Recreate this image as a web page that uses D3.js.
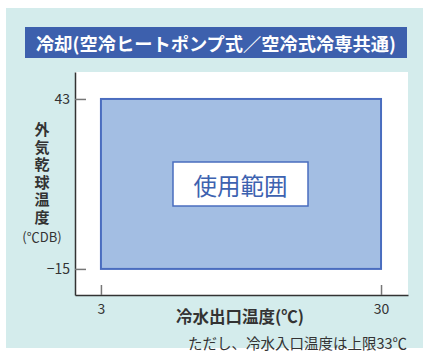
<!DOCTYPE html>
<html><head><meta charset="utf-8">
<script src="https://cdn.jsdelivr.net/npm/d3@7"></script>
<style>body{margin:0;background:#fff}svg{display:block}</style>
</head><body>
<script>
const titleText = "冷却(空冷ヒートポンプ式／空冷式冷専共通)";
const xTicks = [3, 30];
const yTicks = [43, -15];
const xTickLabels = ["3", "30"];
const yTickLabels = ["43", "\u221215"];
const rangeX = [3, 30];      // chilled water outlet temperature
const rangeY = [-15, 43];    // outdoor dry-bulb temperature
const regionLabel = "使用範囲";
const xTitle = "冷水出口温度(℃)";
const yTitle = "外気乾球温度";
const yTitleUnit = "(℃DB)";
const note = "ただし、冷水入口温度は上限33℃";

const W = 423, H = 358;
const font = "'Noto Sans CJK JP', 'Noto Sans', sans-serif";
const svg = d3.select("body").append("svg").attr("width", W).attr("height", H)
  .style("font-family", font);

svg.append("rect").attr("x", 6).attr("y", 8).attr("width", 417).attr("height", 340).attr("fill", "#d4ecec");
svg.append("rect").attr("x", 25).attr("y", 27).attr("width", 382).attr("height", 31).attr("fill", "#3d60ad");
svg.append("text").attr("x", 216).attr("y", 43).attr("text-anchor", "middle").attr("dominant-baseline", "central")
  .attr("fill", "#fff").attr("font-size", 18).attr("font-weight", "bold")
  .attr("textLength", 360).attr("lengthAdjust", "spacingAndGlyphs").text(titleText);

// plot area
svg.append("rect").attr("x", 75).attr("y", 72).attr("width", 333).attr("height", 223).attr("fill", "#fff");

const x = d3.scaleLinear().domain([0.5, 32.6]).range([75, 408]);
const y = d3.scaleLinear().domain([-23.9, 52.2]).range([295, 72]);

svg.append("rect")
  .attr("x", x(rangeX[0])).attr("y", y(rangeY[1]))
  .attr("width", x(rangeX[1]) - x(rangeX[0])).attr("height", y(rangeY[0]) - y(rangeY[1]))
  .attr("fill", "#a3bee3").attr("stroke", "#4a6dbf").attr("stroke-width", 2);

const xAxis = svg.append("g").attr("transform", "translate(0,295)")
  .call(d3.axisBottom(x).tickValues(xTicks).tickFormat((d, i) => xTickLabels[i]).tickSizeInner(-10).tickSizeOuter(0).tickPadding(6));
const yAxis = svg.append("g").attr("transform", "translate(75,0)")
  .call(d3.axisLeft(y).tickValues(yTicks).tickFormat((d, i) => yTickLabels[i]).tickSizeInner(-11).tickSizeOuter(0).tickPadding(5));
[xAxis, yAxis].forEach(a => {
  a.select(".domain").attr("stroke", "#333").attr("stroke-width", 1.5);
  a.selectAll(".tick line").attr("stroke", "#777").attr("stroke-width", 1.5);
  a.selectAll(".tick text").attr("fill", "#333").attr("font-size", 14).attr("font-family", font);
});
xAxis.selectAll(".tick text").attr("dy", "0.9em");

// region label box
svg.append("rect").attr("x", 173).attr("y", 162).attr("width", 135).attr("height", 44)
  .attr("fill", "#fff").attr("stroke", "#4a6dbf").attr("stroke-width", 1.5);
svg.append("text").attr("x", 240.5).attr("y", 184.5).attr("text-anchor", "middle").attr("dominant-baseline", "central")
  .attr("fill", "#3d62b0").attr("font-size", 23.5).text(regionLabel);

// axis titles
svg.append("text").attr("x", 240).attr("y", 316).attr("text-anchor", "middle").attr("dominant-baseline", "central")
  .attr("fill", "#333").attr("font-size", 16.5).attr("font-weight", "bold").text(xTitle);

svg.append("text").attr("x", 42).attr("y", 122)
  .style("writing-mode", "vertical-rl").style("text-orientation", "upright")
  .attr("letter-spacing", 2.5)
  .attr("fill", "#333").attr("font-size", 15).attr("font-weight", "bold").text(yTitle);
svg.append("text").attr("x", 42).attr("y", 242).attr("text-anchor", "middle")
  .attr("fill", "#333").attr("font-size", 13).text(yTitleUnit);

svg.append("text").attr("x", 407).attr("y", 342).attr("text-anchor", "end").attr("dominant-baseline", "central")
  .attr("fill", "#333").attr("font-size", 14.5).text(note);
</script>
</body></html>
